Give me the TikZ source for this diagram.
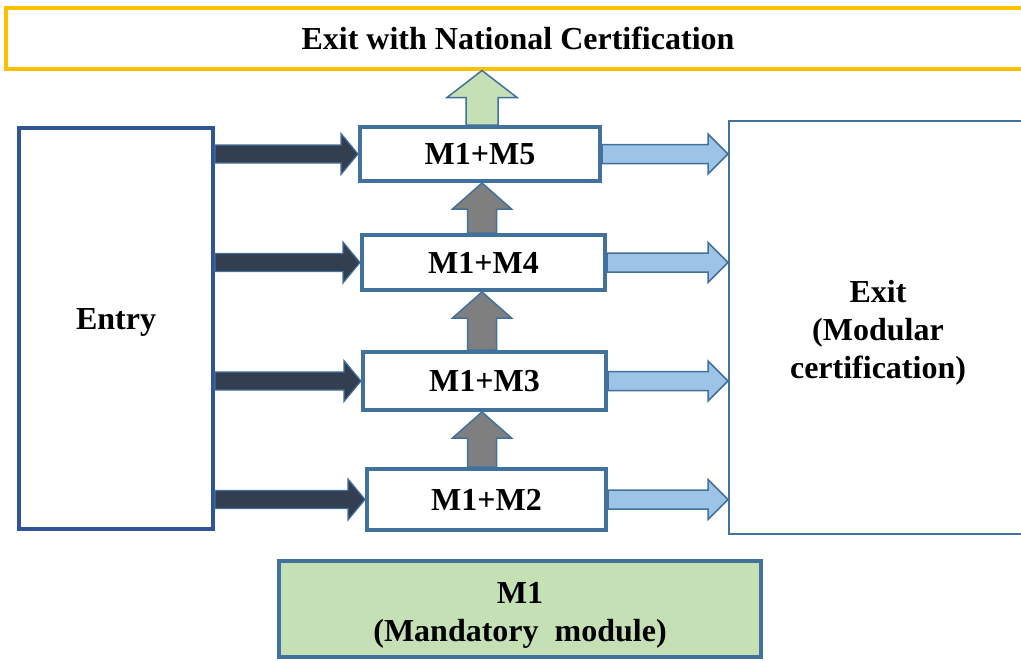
\documentclass[tikz,border=0pt]{standalone}
\usepackage{fontspec}
\setmainfont{Liberation Serif}
\usetikzlibrary{calc}
\definecolor{orangeY}{HTML}{FFC000}
\definecolor{boxblue}{HTML}{41719C}
\definecolor{entryblue}{HTML}{2F5597}
\definecolor{greenfill}{HTML}{C5E0B4}
\definecolor{darkfill}{HTML}{333F50}
\definecolor{greyfill}{HTML}{7F7F7F}
\definecolor{lightfill}{HTML}{9DC3E6}
\tikzset{
  txt/.style={font=\fontsize{32}{38}\selectfont\bfseries, align=center, inner sep=0pt},
  modbox/.style={txt, draw=boxblue, line width=4pt, fill=white, minimum width=#1, minimum height=56pt},
  entrybox/.style={draw=entryblue, line width=4pt, minimum width=194pt, minimum height=401pt, inner sep=0pt},
  exitbox/.style={draw=boxblue, line width=2pt, minimum width=298pt, minimum height=413pt, inner sep=0pt},
  titlebox/.style={txt, font=\fontsize{32}{34}\selectfont\bfseries, draw=orangeY, line width=4pt, minimum width=1025pt, minimum height=61pt},
  mandbox/.style={draw=boxblue, line width=4pt, fill=greenfill, minimum width=482pt, minimum height=96pt, inner sep=0pt},
  darkarrow/.style={fill=darkfill, draw=boxblue, line width=1.2pt},
  lightarrow/.style={fill=lightfill, draw=boxblue, line width=1.5pt},
  greyarrow/.style={fill=greyfill, draw=boxblue, line width=1.5pt},
  greenarrow/.style={fill=greenfill, draw=boxblue, line width=1.5pt},
}
% horizontal block arrow: style, start, end, shaft half, head half, head length
\newcommand{\harr}[6]{%
  \path[#1] let \p1=(#2), \p2=(#3) in
    (\x1,\y1+#4) -- (\x2-#6,\y1+#4) -- (\x2-#6,\y1+#5) -- (\x2,\y1)
    -- (\x2-#6,\y1-#5) -- (\x2-#6,\y1-#4) -- (\x1,\y1-#4) -- cycle;}
% vertical block arrow (upwards): style, start, end, shaft half, head half, head length
\newcommand{\varr}[6]{%
  \path[#1] let \p1=(#2), \p2=(#3) in
    (\x1-#4,\y1) -- (\x1-#4,\y2-#6) -- (\x1-#5,\y2-#6) -- (\x1,\y2)
    -- (\x1+#5,\y2-#6) -- (\x1+#4,\y2-#6) -- (\x1+#4,\y1) -- cycle;}
\begin{document}
\begin{tikzpicture}[x=1pt,y=-1pt]
\useasboundingbox (0,0) rectangle (1021,662);
\fill[white] (0,0) rectangle (1021,662);

\node[titlebox] (title) at (518,38) {Exit with National Certification};
\node[entrybox] (entry) at (116,328.5) {};
\node[txt, yshift=6pt] (entrytxt) at (entry.center) {Entry};
\node[exitbox] (exit) at (878,327.5) {};
\node[txt, yshift=-5pt] (exittxt) at (exit.center) {Exit\\(Modular\\certification)};

\node[modbox=240pt, minimum height=54pt] (m5) at (480,154) {M1+M5};
\node[modbox=243pt, minimum height=55pt] (m4) at (483.5,262.5) {M1+M4};
\node[modbox=243pt, minimum height=58pt] (m3) at (484.5,381) {M1+M3};
\node[modbox=239pt, minimum height=61pt] (m2) at (486.5,499.5) {M1+M2};

\node[mandbox] (m1) at (520,609) {};
\node[txt, yshift=-6pt] (m1txt) at (m1.center) {M1\\(Mandatory\ \ module)};

% entry arrows
\harr{darkarrow}{entry.east |- m5.west}{m5.west}{9pt}{20.5pt}{17pt}
\harr{darkarrow}{entry.east |- m4.west}{m4.west}{9pt}{20.5pt}{17pt}
\harr{darkarrow}{entry.east |- m3.west}{m3.west}{9pt}{20.5pt}{17pt}
\harr{darkarrow}{entry.east |- m2.west}{m2.west}{9pt}{20.5pt}{17pt}

% exit arrows
\harr{lightarrow}{m5.east}{m5.east -| exit.west}{9.5pt}{20pt}{20pt}
\harr{lightarrow}{m4.east}{m4.east -| exit.west}{9.5pt}{20pt}{20pt}
\harr{lightarrow}{m3.east}{m3.east -| exit.west}{9.5pt}{20pt}{20pt}
\harr{lightarrow}{m2.east}{m2.east -| exit.west}{9.5pt}{20pt}{20pt}

% vertical arrows
\coordinate (c2) at (482,469);
\coordinate (c3) at (482,352);
\coordinate (c4) at (482,235);
\coordinate (c5) at (482,127);
\varr{greyarrow}{c2 |- m2.north}{c2 |- m3.south}{14.5pt}{29.5pt}{26pt}
\varr{greyarrow}{c3 |- m3.north}{c3 |- m4.south}{14.5pt}{29.5pt}{26pt}
\varr{greyarrow}{c4 |- m4.north}{c4 |- m5.south}{14.5pt}{29.5pt}{26pt}
\varr{greenarrow}{c5 |- m5.north}{c5 |- title.south}{16pt}{35pt}{27pt}
\end{tikzpicture}
\end{document}
